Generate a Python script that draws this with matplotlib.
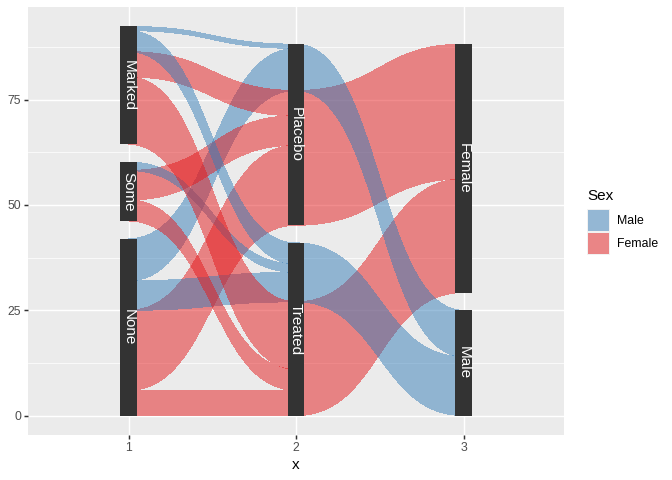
import numpy as np
import matplotlib
matplotlib.use('Agg')
import matplotlib.pyplot as plt
from matplotlib.patches import Polygon, Rectangle

plt.rcParams['font.family'] = ['Liberation Sans', 'DejaVu Sans']

# ---- data (Arthritis: Improved x Treatment x Sex) ----
improved_levels = ['None', 'Some', 'Marked']      # stacked bottom -> top
treatment_levels = ['Treated', 'Placebo']
sex_levels = ['Male', 'Female']

strand_improved = ['None', 'Some', 'Marked', 'None', 'Some', 'Marked',
                   'None', 'Some', 'Marked', 'None', 'Some', 'Marked']
strand_treatment = ['Placebo'] * 6 + ['Treated'] * 6
strand_sex = ['Female'] * 3 + ['Male'] * 3 + ['Female'] * 3 + ['Male'] * 3
strand_count = [19, 7, 6, 10, 0, 1, 6, 5, 16, 7, 2, 5]

legend_labels = ['Male', 'Female']
x_ticks = [1, 2, 3]
y_ticks = [0, 25, 50, 75]

fill_colors = {'Male': '#377EB8', 'Female': '#E41A1C'}
ALPHA = 0.5

n = len(strand_count)
total = sum(strand_count)
sep = 0.05 * total
sex_rank = {'Female': 0, 'Male': 1}
tr_rank = {t: i for i, t in enumerate(treatment_levels)}
im_rank = {t: i for i, t in enumerate(improved_levels)}


def stack(levels, values, keyfn):
    lo = np.zeros(n)
    hi = np.zeros(n)
    bounds = []
    y = 0.0
    for lev in levels:
        idx = [i for i in range(n) if values[i] == lev]
        idx.sort(key=keyfn)
        start = y
        for i in idx:
            lo[i] = y
            y += strand_count[i]
            hi[i] = y
        bounds.append((lev, start, y))
        y += sep
    return lo, hi, bounds


ax1 = stack(improved_levels, strand_improved,
            lambda i: (sex_rank[strand_sex[i]], tr_rank[strand_treatment[i]]))
ax2 = stack(treatment_levels, strand_treatment,
            lambda i: (sex_rank[strand_sex[i]], im_rank[strand_improved[i]]))
ax3 = stack(sex_levels, strand_sex,
            lambda i: (sex_rank[strand_sex[i]], tr_rank[strand_treatment[i]],
                       im_rank[strand_improved[i]]))
axes_data = [ax1, ax2, ax3]


def bez(x0, x1, y0, y1, s=0.5, m=120):
    t = np.linspace(0, 1, m)
    cx0 = x0 + s * (x1 - x0)
    cx1 = x1 - s * (x1 - x0)
    x = (1 - t) ** 3 * x0 + 3 * (1 - t) ** 2 * t * cx0 + 3 * (1 - t) * t ** 2 * cx1 + t ** 3 * x1
    y = (1 - t) ** 3 * y0 + 3 * (1 - t) ** 2 * t * y0 + 3 * (1 - t) * t ** 2 * y1 + t ** 3 * y1
    return x, y


fig = plt.figure(figsize=(6.72, 4.8), dpi=100)
ax = fig.add_axes([28 / 672, 1 - 435 / 480, (564 - 28) / 672, (435 - 7) / 480])
ax.set_facecolor('#EBEBEB')
for s in ax.spines.values():
    s.set_visible(False)

# strands (contiguous strands with shared endpoints and colour are merged
# so that they render as one band without seams)
for a in range(2):
    lo0, hi0, _ = axes_data[a]
    lo1, hi1, _ = axes_data[a + 1]
    xa, xb = x_ticks[a], x_ticks[a + 1]
    bands = []
    for i in sorted([i for i in range(n) if strand_count[i] > 0], key=lambda i: lo0[i]):
        merged = False
        for b in bands:
            if (b['sex'] == strand_sex[i] and abs(b['hi0'] - lo0[i]) < 1e-9
                    and abs(b['hi1'] - lo1[i]) < 1e-9):
                b['hi0'] = hi0[i]
                b['hi1'] = hi1[i]
                merged = True
                break
        if not merged:
            bands.append({'sex': strand_sex[i], 'lo0': lo0[i], 'hi0': hi0[i],
                          'lo1': lo1[i], 'hi1': hi1[i]})
    for b in bands:
        xl, yl = bez(xa, xb, b['lo0'], b['lo1'])
        xu, yu = bez(xa, xb, b['hi0'], b['hi1'])
        pts = np.column_stack([np.concatenate([xl, xu[::-1]]),
                               np.concatenate([yl, yu[::-1]])])
        ax.add_patch(Polygon(pts, closed=True, facecolor=fill_colors[b['sex']],
                             edgecolor='none', alpha=ALPHA, antialiased=False, zorder=2))

# axis bars and labels
w = 0.1
for a in range(3):
    for lev, start, end in axes_data[a][2]:
        ax.add_patch(Rectangle((x_ticks[a] - w / 2, start), w, end - start,
                               facecolor='#333333', edgecolor='none', zorder=3))
        ax.text(x_ticks[a], (start + end) / 2, lev, rotation=-90, color='white',
                fontsize=11, ha='center', va='center', zorder=4,
                rotation_mode='anchor')

ymax = total + 2 * sep
ax.set_xlim(0.4, 3.6)
ax.set_ylim(-0.05 * ymax, 1.05 * ymax)
ax.set_xticks(x_ticks)
ax.set_xticklabels([str(v) for v in x_ticks])
ax.set_yticks(y_ticks)
ax.set_yticks([12.5, 37.5, 62.5, 87.5], minor=True)
ax.grid(which='major', color='white', linewidth=1.07, zorder=0)
ax.grid(which='minor', axis='y', color='white', linewidth=0.53, zorder=0)
ax.set_axisbelow(True)
ax.tick_params(which='major', length=2.75, width=1.07, color='#333333', pad=2.2,
               labelsize=8.8, labelcolor='#4D4D4D')
ax.tick_params(which='minor', length=0)
ax.set_xlabel('x', fontsize=11, labelpad=2.75)

# legend (manual)
def px_rect(x0, y0, x1, y1, **kw):
    fig.add_artist(Rectangle((x0 / 672, 1 - y1 / 480), (x1 - x0) / 672, (y1 - y0) / 480,
                             transform=fig.transFigure, **kw))

fig.text(587 / 672, 1 - 195.5 / 480, 'Sex', fontsize=11, ha='left', va='center')
key_top = 209
for k, lab in enumerate(legend_labels):
    y0 = key_top + k * 23.2
    px_rect(587, y0, 609.5, y0 + 23.2, facecolor='#F2F2F2', edgecolor='none')
    px_rect(588, y0 + 1, 608.5, y0 + 22.2, facecolor=fill_colors[lab],
            edgecolor='none', alpha=ALPHA)
    fig.text(617 / 672, 1 - (y0 + 11.6) / 480, lab, fontsize=8.8, ha='left',
             va='center')

fig.savefig('out.png', dpi=100)
